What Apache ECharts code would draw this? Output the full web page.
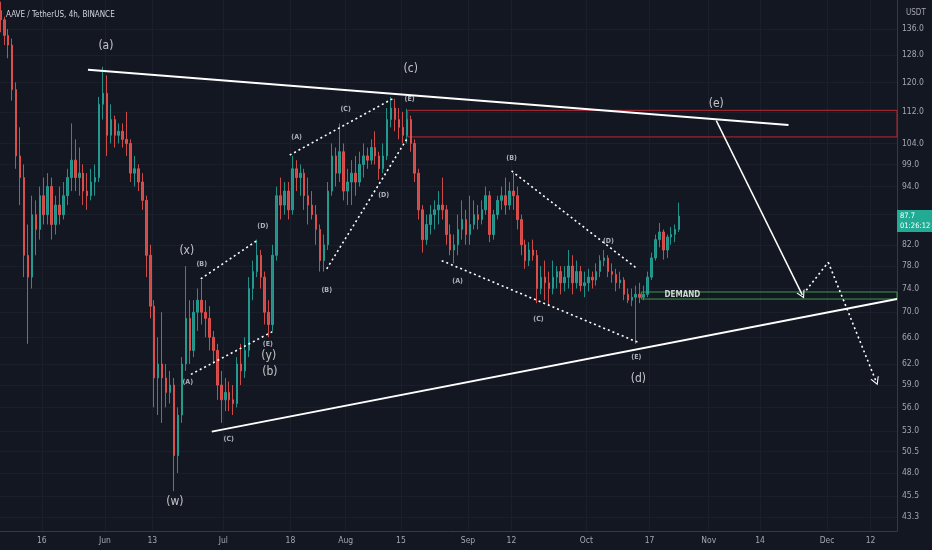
<!DOCTYPE html>
<html>
<head>
<meta charset="utf-8">
<title>AAVE / TetherUS, 4h, BINANCE</title>
<script src="https://cdn.jsdelivr.net/npm/echarts@6/dist/echarts.min.js"></script>
<style>
  html, body { margin: 0; padding: 0; background: #131722; }
  #chart { width: 932px; height: 550px; }
</style>
</head>
<body>
<div id="chart"></div>
<script>
// daily candles: [date, open, close, low, high]
const candles = [
  ['2022-05-05', 142, 139, 135, 145], ['2022-05-06', 139, 134, 131, 140], ['2022-05-07', 134, 131, 127, 136],
  ['2022-05-08', 131, 118, 115, 133], ['2022-05-09', 118, 101, 98, 120], ['2022-05-10', 101, 96, 90, 108],
  ['2022-05-11', 96, 80, 76, 99], ['2022-05-12', 80, 76, 65, 86], ['2022-05-13', 76, 88, 74, 92],
  ['2022-05-14', 88, 85, 80, 91], ['2022-05-15', 85, 92, 83, 94], ['2022-05-16', 92, 88, 86, 96],
  ['2022-05-17', 88, 94, 86, 97], ['2022-05-18', 94, 86, 83, 96], ['2022-05-19', 86, 90, 84, 92],
  ['2022-05-20', 90, 88, 86, 94], ['2022-05-21', 88, 92, 87, 95], ['2022-05-22', 92, 96, 90, 98],
  ['2022-05-23', 96, 100, 93, 109], ['2022-05-24', 100, 96, 93, 105], ['2022-05-25', 96, 97, 92, 103],
  ['2022-05-26', 97, 93, 90, 99], ['2022-05-27', 93, 92, 89, 97], ['2022-05-28', 92, 95, 91, 98],
  ['2022-05-29', 95, 96, 92, 99], ['2022-05-30', 96, 114, 95, 116], ['2022-05-31', 114, 117, 110, 124.5],
  ['2022-06-01', 117, 106, 101, 122], ['2022-06-02', 106, 110, 104, 114], ['2022-06-03', 110, 106, 103, 111],
  ['2022-06-04', 106, 107, 104, 109], ['2022-06-05', 107, 105, 103, 109], ['2022-06-06', 105, 104, 101, 112],
  ['2022-06-07', 104, 97, 95, 105], ['2022-06-08', 97, 98, 94, 101], ['2022-06-09', 98, 95, 93, 99],
  ['2022-06-10', 95, 91, 89, 97], ['2022-06-11', 91, 80, 76, 92], ['2022-06-12', 80, 71, 69, 82],
  ['2022-06-13', 71, 60, 56, 72], ['2022-06-14', 60, 62, 55, 66], ['2022-06-15', 62, 60, 54, 70],
  ['2022-06-16', 60, 58, 56, 62], ['2022-06-17', 58, 59, 56.5, 61], ['2022-06-18', 59, 50, 46, 60],
  ['2022-06-19', 50, 55, 48, 56], ['2022-06-20', 55, 62, 54, 63], ['2022-06-21', 62, 69, 61, 78],
  ['2022-06-22', 69, 64, 62, 72], ['2022-06-23', 64, 70, 63, 72], ['2022-06-24', 70, 72, 67, 74],
  ['2022-06-25', 72, 70, 68, 75.5], ['2022-06-26', 70, 69, 66, 72], ['2022-06-27', 69, 66, 64, 71],
  ['2022-06-28', 66, 64, 62, 67], ['2022-06-29', 64, 59, 57, 65], ['2022-06-30', 59, 57, 54, 61],
  ['2022-07-01', 57, 58, 55.5, 60], ['2022-07-02', 58, 57, 55.5, 59.5], ['2022-07-03', 57, 56.5, 55, 59],
  ['2022-07-04', 56.5, 62, 56, 63], ['2022-07-05', 62, 61, 59, 65], ['2022-07-06', 61, 64, 60, 66],
  ['2022-07-07', 64, 74, 63, 76], ['2022-07-08', 74, 77, 72, 79], ['2022-07-09', 77, 80, 76, 83],
  ['2022-07-10', 80, 76, 74, 81], ['2022-07-11', 76, 70, 68, 77], ['2022-07-12', 70, 68, 66, 72],
  ['2022-07-13', 68, 80, 67, 82], ['2022-07-14', 80, 92, 79, 94], ['2022-07-15', 92, 90, 87, 96],
  ['2022-07-16', 90, 93, 88, 95], ['2022-07-17', 93, 89, 87, 95], ['2022-07-18', 89, 98, 88, 101],
  ['2022-07-19', 98, 96, 93, 100], ['2022-07-20', 96, 97, 92, 99], ['2022-07-21', 97, 92, 89, 98],
  ['2022-07-22', 92, 90, 86, 96], ['2022-07-23', 90, 88, 87, 93], ['2022-07-24', 88, 85, 82, 90],
  ['2022-07-25', 85, 79, 77, 86], ['2022-07-26', 79, 82, 77, 84], ['2022-07-27', 82, 93, 81, 95],
  ['2022-07-28', 93, 101, 92, 104], ['2022-07-29', 101, 97, 94, 103], ['2022-07-30', 97, 102, 95, 109],
  ['2022-07-31', 102, 93, 91, 104], ['2022-08-01', 93, 95, 90, 98], ['2022-08-02', 95, 97, 90, 100],
  ['2022-08-03', 97, 95, 92, 101], ['2022-08-04', 95, 99, 94, 102], ['2022-08-05', 99, 101, 96, 104],
  ['2022-08-06', 101, 100, 98, 103], ['2022-08-07', 100, 103, 99, 105], ['2022-08-08', 103, 101, 99, 107],
  ['2022-08-09', 101, 98, 95.5, 102], ['2022-08-10', 98, 101, 97, 104], ['2022-08-11', 101, 110, 100, 113],
  ['2022-08-12', 110, 113, 108, 116], ['2022-08-13', 113, 110, 107, 115.5], ['2022-08-14', 110, 108, 105, 113],
  ['2022-08-15', 108, 106, 104, 112], ['2022-08-16', 106, 110, 104, 112.8], ['2022-08-17', 110, 104, 102, 111],
  ['2022-08-18', 104, 97, 95, 105], ['2022-08-19', 97, 89, 87, 98], ['2022-08-20', 89, 83, 80.5, 90],
  ['2022-08-21', 83, 86, 82, 88], ['2022-08-22', 86, 88, 84, 90], ['2022-08-23', 88, 89, 85, 91],
  ['2022-08-24', 89, 90, 86, 93], ['2022-08-25', 90, 89, 87, 96], ['2022-08-26', 89, 84, 82, 90],
  ['2022-08-27', 84, 81, 80, 86], ['2022-08-28', 81, 82, 78.5, 84], ['2022-08-29', 82, 85, 80, 88],
  ['2022-08-30', 85, 87, 83, 91], ['2022-08-31', 87, 84, 82, 89], ['2022-09-01', 84, 86, 82, 92],
  ['2022-09-02', 86, 88, 85, 91], ['2022-09-03', 88, 87, 85, 90], ['2022-09-04', 87, 89, 86, 91],
  ['2022-09-05', 89, 92, 88, 94], ['2022-09-06', 92, 84, 82.5, 93], ['2022-09-07', 84, 88, 83, 89],
  ['2022-09-08', 88, 91, 87, 92], ['2022-09-09', 91, 92, 89, 94], ['2022-09-10', 92, 90, 88, 96],
  ['2022-09-11', 90, 93, 89, 95], ['2022-09-12', 93, 92, 89, 97], ['2022-09-13', 92, 87, 85, 94],
  ['2022-09-14', 87, 82, 80, 88], ['2022-09-15', 82, 79, 77.5, 83], ['2022-09-16', 79, 81, 78, 82.5],
  ['2022-09-17', 81, 80, 79, 83], ['2022-09-18', 80, 74, 71.5, 81], ['2022-09-19', 74, 76, 73, 78],
  ['2022-09-20', 76, 75, 72, 79], ['2022-09-21', 75, 74, 71, 77], ['2022-09-22', 74, 76, 73, 79],
  ['2022-09-23', 76, 77, 74, 78], ['2022-09-24', 77, 75, 73, 78], ['2022-09-25', 75, 76, 73.5, 78],
  ['2022-09-26', 76, 78, 74, 81], ['2022-09-27', 78, 75, 73, 80], ['2022-09-28', 75, 77, 74, 79],
  ['2022-09-29', 77, 74.5, 73.5, 78], ['2022-09-30', 74.5, 75, 72.5, 77], ['2022-10-01', 75, 76, 73.5, 77.5],
  ['2022-10-02', 76, 75.5, 74, 77], ['2022-10-03', 75.5, 77, 74.5, 78.5], ['2022-10-04', 77, 79, 76, 80],
  ['2022-10-05', 79, 79.5, 78, 81], ['2022-10-06', 79.5, 77, 76, 80], ['2022-10-07', 77, 76.5, 75, 78.5],
  ['2022-10-08', 76.5, 75, 73.5, 77.5], ['2022-10-09', 75, 75.5, 74, 77], ['2022-10-10', 75.5, 73, 72, 76],
  ['2022-10-11', 73, 72, 71.5, 74], ['2022-10-12', 72, 72.5, 71, 74], ['2022-10-13', 72.5, 73, 65, 74.5],
  ['2022-10-14', 73, 72.5, 71.5, 75], ['2022-10-15', 72.5, 73, 72, 74.5], ['2022-10-16', 73, 76, 72.5, 77],
  ['2022-10-17', 76, 79.5, 75.5, 80.5], ['2022-10-18', 79.5, 83, 79, 84], ['2022-10-19', 83, 84.5, 81.5, 86.3],
  ['2022-10-20', 84.5, 81, 79.2, 85], ['2022-10-21', 81, 83.5, 79.5, 84], ['2022-10-22', 83.5, 84, 82, 85.5],
  ['2022-10-23', 84, 85, 82.5, 86], ['2022-10-24', 85, 87.7, 84.5, 90.5]
];

const lastPrice = 87.7;
const countdown = '01:26:12';

const priceTicks = [43.3, 45.5, 48, 50.5, 53, 56, 59, 62, 66, 70, 74, 78, 82, 88, 94, 99, 104, 112, 120, 128, 136];
const priceLabels = [43.3, 45.5, 48, 50.5, 53, 56, 59, 62, 66, 70, 74, 78, 82, 94, 99, 104, 112, 120, 128, 136];
const dateTicks = ['2022-05-16', '2022-06-01', '2022-06-13', '2022-07-01', '2022-07-18', '2022-08-01', '2022-08-15',
  '2022-09-01', '2022-09-12', '2022-10-01', '2022-10-17', '2022-11-01', '2022-11-14', '2022-12-01', '2022-12-12'];
const monthNames = ['Jan', 'Feb', 'Mar', 'Apr', 'May', 'Jun', 'Jul', 'Aug', 'Sep', 'Oct', 'Nov', 'Dec'];
const xRange = ['2022-05-05 10:00', '2022-12-18 17:00'];
const yRange = [41.9, 145.6];

// drawings: [time, price]
const triangleLines = [
  [['2022-05-27 17:00', 123.6], ['2022-11-21 05:00', 108.6]],
  [['2022-06-28 02:00', 52.9], ['2022-12-18 17:00', 72.2]]
];
const dottedLines = [
  [['2022-06-25 07:00', 75.7], ['2022-07-09 17:00', 82.9]],
  [['2022-06-22 19:00', 60.5], ['2022-07-13 12:00', 66.9]],
  [['2022-07-27 05:00', 77.5], ['2022-08-16 17:00', 105.4]],
  [['2022-07-17 20:00', 101.2], ['2022-08-12 22:00', 115.5]],
  [['2022-09-12 01:00', 97.5], ['2022-10-13 22:00', 77.5]],
  [['2022-08-25 08:00', 79.0], ['2022-10-14 04:00', 65.2]]
];
const projectionArrow = [['2022-11-02 22:00', 109.7], ['2022-11-24 17:00', 72.9]];
const projectionPath = [['2022-11-25 17:00', 73.7], ['2022-12-01 07:00', 78.7], ['2022-12-13 10:00', 59.5]];
const resistanceZone = [['2022-08-16 17:00', 112.4], [xRange[1], 105.6]];
const demandZone = [['2022-10-14 22:00', 73.4], [xRange[1], 72.2]];

const waveLabels = [
  ['2022-06-01 06:00', 130.7, '(a)'], ['2022-07-12 19:00', 60.9, '(b)'], ['2022-08-17 12:00', 123.9, '(c)'],
  ['2022-10-14 04:00', 59.9, '(d)'], ['2022-11-02 22:00', 114.0, '(e)'], ['2022-06-18 17:00', 44.9, '(w)'],
  ['2022-06-21 18:00', 80.9, '(x)'], ['2022-07-12 12:00', 63.2, '(y)']
];
const subLabels = [
  ['2022-06-22 00:00', 59.4, '(A)'], ['2022-06-25 13:00', 78.3, '(B)'], ['2022-07-02 09:00', 52.0, '(C)'],
  ['2022-07-11 00:00', 85.6, '(D)'], ['2022-07-12 07:00', 64.9, '(E)'],
  ['2022-07-19 14:00', 105.5, '(A)'], ['2022-07-27 05:00', 73.7, '(B)'], ['2022-08-01 00:00', 112.7, '(C)'],
  ['2022-08-10 15:00', 92.2, '(D)'], ['2022-08-17 05:00', 115.3, '(E)'],
  ['2022-08-29 09:00', 75.2, '(A)'], ['2022-09-12 01:00', 100.4, '(B)'], ['2022-09-18 21:00', 68.9, '(C)'],
  ['2022-10-06 14:00', 82.6, '(D)'], ['2022-10-13 16:00', 63.0, '(E)']
];
const demandLabel = ['2022-10-25 08:00', 72.9, 'DEMAND'];

// local time parse, 'YYYY-MM-DD' or 'YYYY-MM-DD HH:mm'
const t = s => new Date(s.length === 10 ? s + 'T00:00' : s.replace(' ', 'T')).getTime();
const HALF_DAY = 12 * 3600 * 1000;

const FONT = "'Liberation Sans Narrow', 'DejaVu Sans Condensed', 'Liberation Sans', sans-serif";
const chevron = 'path://M0,10 L5,0 L10,10 L8.6,10 L5,2.8 L1.4,10 Z';

const solid = { color: '#ffffff', width: 2, type: 'solid' };
const dotted = { color: '#ffffff', width: 1.6, type: [2, 3] };

const seg = (a, b, style, endSymbol) => [
  { coord: [t(a[0]), a[1]], symbol: 'none' },
  { coord: [t(b[0]), b[1]], symbol: endSymbol || 'none', lineStyle: style }
];

const lineItems = [];
triangleLines.forEach(l => lineItems.push(seg(l[0], l[1], solid)));
dottedLines.forEach(l => lineItems.push(seg(l[0], l[1], dotted)));
lineItems.push(seg(projectionArrow[0], projectionArrow[1], { color: '#ffffff', width: 1.5, type: 'solid' }, chevron));
lineItems.push(seg(projectionPath[0], projectionPath[1], dotted));
lineItems.push(seg(projectionPath[1], projectionPath[2], dotted, chevron));
// last price tag on the price scale
lineItems.push({
  yAxis: lastPrice,
  lineStyle: { color: 'rgba(0,0,0,0)', width: 0 },
  label: {
    show: true,
    opacity: 1,
    position: 'end',
    distance: 0,
    offset: [0, 5],
    formatter: lastPrice.toFixed(1) + '\n' + countdown,
    backgroundColor: '#22ab94',
    color: '#ffffff',
    fontFamily: FONT,
    fontSize: 7.5,
    lineHeight: 10,
    align: 'left',
    padding: [1, 2, 1, 3]
  }
});

const zoneItem = (z, color) => [
  { coord: [t(z[0][0]), z[0][1]], itemStyle: { color: 'rgba(0,0,0,0)', borderColor: color, borderWidth: 1 } },
  { coord: [t(z[1][0]), z[1][1]] }
];

const labelSeries = (rows, style) => ({
  type: 'scatter',
  symbolSize: 1,
  itemStyle: { color: 'rgba(0,0,0,0)' },
  silent: true,
  data: rows.map(l => [t(l[0]), l[1], l[2]]),
  label: Object.assign({ show: true, position: 'inside', formatter: p => p.data[2], fontFamily: FONT }, style)
});

const chart = echarts.init(document.getElementById('chart'));
chart.setOption({
  backgroundColor: '#131722',
  animation: false,
  title: [
    { text: 'AAVE / TetherUS, 4h, BINANCE', left: 1, top: 6,
      textStyle: { color: '#d1d4dc', fontSize: 8, fontWeight: 'normal', fontFamily: FONT } },
    { text: 'USDT', left: 901, top: 4,
      textStyle: { color: '#a3a6af', fontSize: 8, fontWeight: 'normal', fontFamily: FONT } }
  ],
  grid: { left: 0, right: 35, top: 0, bottom: 19 },
  xAxis: {
    type: 'value',
    min: t(xRange[0]),
    max: t(xRange[1]),
    axisLine: { lineStyle: { color: '#363a45' } },
    axisTick: { show: false, customValues: dateTicks.map(t) },
    splitLine: { show: true, lineStyle: { color: '#1b1f2b', width: 1 } },
    axisLabel: {
      customValues: dateTicks.map(t),
      color: '#a3a6af',
      fontSize: 8.5,
      fontFamily: FONT,
      margin: 5,
      formatter: v => {
        const d = new Date(v);
        return d.getDate() === 1 ? monthNames[d.getMonth()] : String(d.getDate());
      }
    }
  },
  yAxis: {
    type: 'log',
    position: 'right',
    min: yRange[0],
    max: yRange[1],
    axisLine: { show: true, lineStyle: { color: '#363a45' } },
    axisTick: { show: false, customValues: priceTicks },
    splitLine: { show: true, lineStyle: { color: '#1b1f2b', width: 1 } },
    axisLabel: {
      customValues: priceLabels,
      color: '#a3a6af',
      fontSize: 8.5,
      fontFamily: FONT,
      margin: 5,
      formatter: v => Number(v).toFixed(1)
    }
  },
  series: [
    {
      type: 'candlestick',
      barWidth: 2,
      data: candles.map(c => [t(c[0]) + HALF_DAY, c[1], c[2], c[3], c[4]]),
      itemStyle: {
        color: '#26a69a', color0: '#ef5350',
        borderColor: '#26a69a', borderColor0: '#ef5350',
        borderWidth: 1, opacity: 0.85
      },
      markArea: {
        silent: true,
        label: { show: false },
        data: [zoneItem(resistanceZone, '#b52b35'), zoneItem(demandZone, '#3f9a4a')]
      },
      markLine: {
        silent: true,
        symbol: ['none', 'none'],
        symbolSize: [9, 8],
        label: { show: false },
        emphasis: { disabled: true },
        data: lineItems
      }
    },
    labelSeries(waveLabels, { color: '#ececec', fontSize: 12 }),
    labelSeries(subLabels, { color: '#d1d4dc', fontSize: 7, fontWeight: 'bold' }),
    labelSeries([demandLabel], { color: '#ffffff', fontSize: 8, fontWeight: 'bold' })
  ]
});
</script>
</body>
</html>
